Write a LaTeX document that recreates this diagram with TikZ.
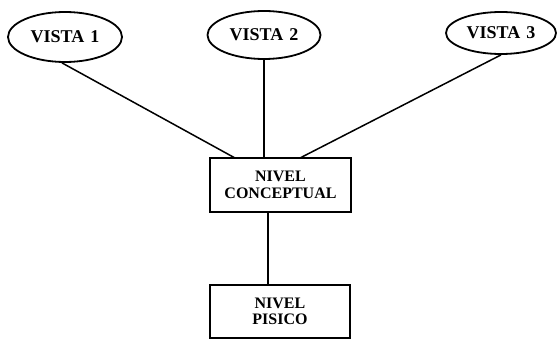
\documentclass[tikz,border=0pt]{standalone}
\usepackage{fontspec}
\setmainfont{Liberation Serif}
\usetikzlibrary{shapes.geometric}
\begin{document}
\begin{tikzpicture}[x=1pt,y=-1pt,
  vista/.style={draw,line width=1.8pt,ellipse,inner sep=0pt,font=\bfseries\fontsize{18}{20}\selectfont},
  nivel/.style={draw,line width=1.6pt,rectangle,inner sep=0pt,align=center,font=\bfseries\fontsize{16}{16.5}\selectfont},
  link/.style={line width=1.5pt}]
\useasboundingbox[fill=white] (0,0) rectangle (559,339);
\node[vista,minimum width=114pt,minimum height=50pt] (v1) at (65,37) {VISTA\,\,1};
\node[vista,minimum width=113pt,minimum height=48pt] (v2) at (264,35) {VISTA\,\,2};
\node[vista,minimum width=110pt,minimum height=42pt] (v3) at (501,33) {VISTA\,\,3};
\node[nivel,minimum width=141pt,minimum height=54pt] (nc) at (280.5,185) {NIVEL\\CONCEPTUAL};
\node[nivel,minimum width=140pt,minimum height=53pt] (np) at (280,311.5) {NIVEL\\PISICO};
\coordinate (a1) at (235,158);
\coordinate (a3) at (300,158);
\draw[link] (v1.south) ++(-3,0) coordinate (s1) -- (a1);
\draw[link] (v2.south) -- (v2.south |- nc.north);
\draw[link] (v3.south) -- (a3);
\draw[link] (nc.south -| 268,0) -- (np.north -| 268,0);
\end{tikzpicture}
\end{document}
